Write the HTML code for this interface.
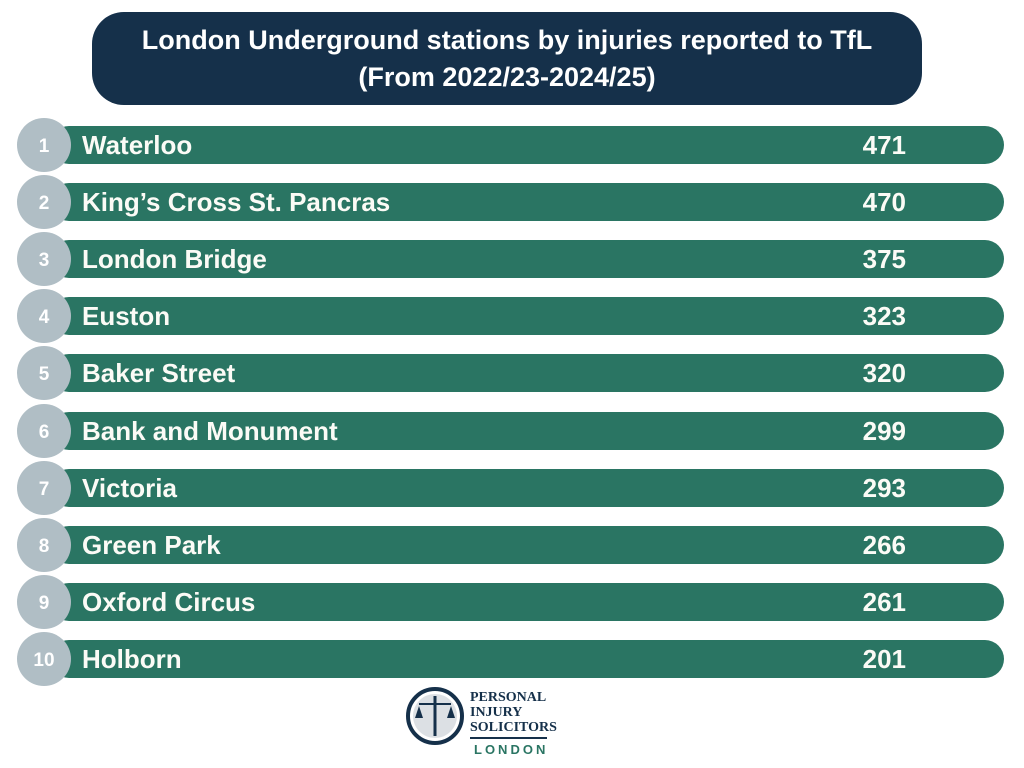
<!DOCTYPE html>
<html><head><style>
body{margin:0;width:1024px;height:768px;background:#fff;position:relative;overflow:hidden;font-family:"Liberation Sans",sans-serif}
.title{position:absolute;left:92px;top:12px;width:830px;height:93px;background:#15304a;border-radius:32px;color:#fff;font-weight:bold;font-size:27px;text-align:center;line-height:37px;padding-top:10px;box-sizing:border-box}
.bar{position:absolute;left:50px;width:954px;height:38px;background:#2a7563;border-radius:19px}
.name{position:absolute;left:82px;color:#fbfbf6;font-weight:bold;font-size:26px;line-height:38px}
.val{position:absolute;right:118px;color:#fbfbf6;font-weight:bold;font-size:26px;line-height:38px}
.c{position:absolute;left:17px;width:54px;height:54px;border-radius:50%;background:#b0bec5;color:#fff;font-weight:bold;font-size:19px;text-align:center;line-height:58px}
</style></head><body>
<div class="title">London Underground stations by injuries reported to TfL<br>(From 2022/23-2024/25)</div>
<div id="rows"></div>
<svg style="position:absolute;left:405px;top:686px" width="60" height="60"><circle cx="30" cy="30" r="27" fill="none" stroke="#15304a" stroke-width="4"/><circle cx="30" cy="30" r="22" fill="#15304a" opacity=".15"/><line x1="30" y1="10" x2="30" y2="50" stroke="#15304a" stroke-width="3"/><line x1="14" y1="18" x2="46" y2="18" stroke="#15304a" stroke-width="2"/><path d="M10 32 L14 20 L18 32 Z M42 32 L46 20 L50 32Z" fill="#15304a"/></svg>
<div style="position:absolute;left:470px;top:690px;font-family:'Liberation Serif',serif;font-weight:bold;font-size:14px;line-height:15px;color:#15304a">PERSONAL<br>INJURY<br>SOLICITORS</div>
<div style="position:absolute;left:470px;top:737px;width:77px;height:2px;background:#15304a"></div>
<div style="position:absolute;left:474px;top:742px;font-size:13px;letter-spacing:3px;color:#2a7563;font-weight:bold">LONDON</div>
<script>
var d=[["Waterloo",471],["King’s Cross St. Pancras",470],["London Bridge",375],["Euston",323],["Baker Street",320],["Bank and Monument",299],["Victoria",293],["Green Park",266],["Oxford Circus",261],["Holborn",201]];
var h="";d.forEach(function(r,i){var y=145+i*57.1;h+='<div class="bar" style="top:'+(y-19)+'px"></div><div class="name" style="top:'+(y-19)+'px">'+r[0]+'</div><div class="val" style="top:'+(y-19)+'px">'+r[1]+'</div><div class="c" style="top:'+(y-27)+'px">'+(i+1)+'</div>';});
document.getElementById("rows").innerHTML=h;
</script>
</body></html>
